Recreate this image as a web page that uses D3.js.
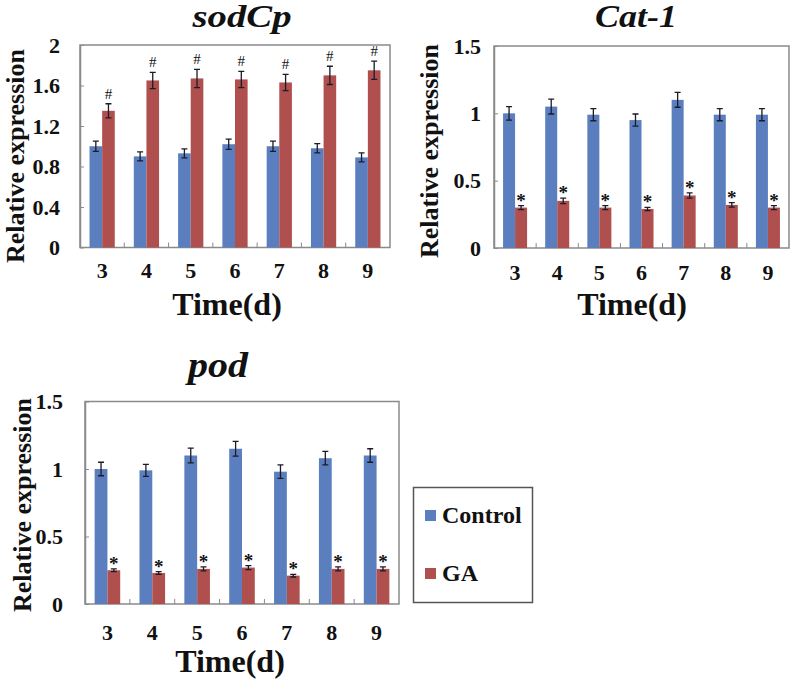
<!DOCTYPE html>
<html><head><meta charset="utf-8">
<script src="https://cdn.jsdelivr.net/npm/d3@7"></script>
<style>body{margin:0;background:#fff}svg{display:block}</style>
</head><body><svg id="c" width="793" height="684" font-family="'Liberation Serif', 'Times New Roman', Times, serif" font-weight="bold"></svg>
<script>
const categories = ["3","4","5","6","7","8","9"];
const seriesNames = ["Control","GA"];
const sodCpControl = [1.00,0.90,0.93,1.02,1.00,0.98,0.89];
const sodCpControlErr = [0.05,0.045,0.045,0.05,0.05,0.045,0.045];
const sodCpGA = [1.35,1.65,1.67,1.66,1.63,1.70,1.75];
const sodCpGAErr = [0.07,0.08,0.09,0.08,0.08,0.09,0.09];
const cat1Control = [1.00,1.05,0.99,0.95,1.10,0.99,0.99];
const cat1ControlErr = [0.05,0.055,0.045,0.045,0.055,0.045,0.045];
const cat1GA = [0.30,0.35,0.30,0.29,0.39,0.32,0.30];
const cat1GAErr = [0.015,0.02,0.015,0.012,0.02,0.017,0.015];
const podControl = [1.00,0.99,1.10,1.15,0.98,1.08,1.10];
const podControlErr = [0.05,0.045,0.055,0.055,0.05,0.05,0.05];
const podGA = [0.25,0.23,0.26,0.27,0.21,0.26,0.26];
const podGAErr = [0.01,0.01,0.015,0.015,0.01,0.015,0.015];
const sodCpTicks = [0,0.4,0.8,1.2,1.6,2];
const lowTicks = [0,0.5,1,1.5];

const FONT = "'Liberation Serif', 'Times New Roman', Times, serif";
const colors = {Control:"#5b7fbe", GA:"#b0504e"};
const svg = d3.select("#c");
svg.append("rect").attr("width",793).attr("height",684).attr("fill","#fff");

const panels = [
  {title:"sodCp", titleX:242, titleY:27, titleSize:31, titleLen:99,
   left:80, right:390, top:45, bottom:247.5, ymax:2, ticks:sodCpTicks, tickPad:20,
   ylabX:23.5, ylabY:156, xlabY:278, timeX:227, timeY:315,
   ctrl:sodCpControl, ctrlErr:sodCpControlErr, ga:sodCpGA, gaErr:sodCpGAErr, mark:"#"},
  {title:"Cat-1", titleX:636, titleY:27, titleSize:31, titleLen:82,
   left:494, right:789, top:46, bottom:248, ymax:1.5, ticks:lowTicks, tickPad:13,
   ylabX:438, ylabY:151, xlabY:280, timeX:632, timeY:315,
   ctrl:cat1Control, ctrlErr:cat1ControlErr, ga:cat1GA, gaErr:cat1GAErr, mark:"*"},
  {title:"pod", titleX:218, titleY:377, titleSize:36, titleLen:60,
   left:85, right:399, top:401.5, bottom:604, ymax:1.5, ticks:lowTicks, tickPad:22,
   ylabX:31, ylabY:505, xlabY:640, timeX:230, timeY:672,
   ctrl:podControl, ctrlErr:podControlErr, ga:podGA, gaErr:podGAErr, mark:"*"}
];

const pInner = 0.43;
panels.forEach(p => {
  const g = svg.append("g");
  const x = d3.scaleBand().domain(categories).range([p.left,p.right]).paddingInner(pInner).paddingOuter(pInner/2);
  const x1 = d3.scaleBand().domain(seriesNames).range([0,x.bandwidth()]);
  const y = d3.scaleLinear().domain([0,p.ymax]).range([p.bottom,p.top]);

  g.append("rect").attr("x",p.left).attr("y",p.top).attr("width",p.right-p.left).attr("height",p.bottom-p.top)
    .attr("fill","none").attr("stroke","#8a8a8a").attr("stroke-width",1.5);

  const ya = g.append("g").attr("transform",`translate(${p.left},0)`)
    .call(d3.axisLeft(y).tickValues(p.ticks).tickSizeInner(-4).tickSizeOuter(0).tickPadding(p.tickPad).tickFormat(d3.format("")));
  ya.attr("font-family",FONT).attr("font-size",22);
  ya.select(".domain").attr("stroke","#8a8a8a").attr("stroke-width",1.5);
  ya.selectAll(".tick line").attr("stroke","#8a8a8a");
  ya.selectAll(".tick text").attr("font-size",22).attr("fill","#111").attr("font-family",FONT).attr("font-weight","bold");

  const xa = g.append("g").attr("transform",`translate(0,${p.bottom})`)
    .call(d3.axisBottom(x).tickSize(0).tickPadding(0));
  xa.attr("font-family",FONT).attr("font-size",22);
  xa.select(".domain").remove();
  xa.selectAll(".tick text").attr("font-size",22).attr("fill","#111").attr("font-family",FONT).attr("font-weight","bold")
    .attr("dy",null).attr("y",p.xlabY-p.bottom);
  g.selectAll(".sep").data(categories.slice(1)).join("line")
    .attr("x1",d=>x(d)-x.step()*pInner/2).attr("x2",d=>x(d)-x.step()*pInner/2)
    .attr("y1",p.bottom).attr("y2",p.bottom-5).attr("stroke","#8a8a8a");

  const rows = categories.map((c,i)=>({c, vals:[
    {s:"Control", v:p.ctrl[i], e:p.ctrlErr[i]},
    {s:"GA", v:p.ga[i], e:p.gaErr[i]}]}));
  const grp = g.selectAll(".grp").data(rows).join("g").attr("transform",d=>`translate(${x(d.c)},0)`);
  grp.selectAll("rect").data(d=>d.vals).join("rect")
    .attr("x",d=>x1(d.s)).attr("width",x1.bandwidth())
    .attr("y",d=>y(d.v)).attr("height",d=>y(0)-y(d.v)).attr("fill",d=>colors[d.s]);
  const cap = 3;
  grp.selectAll(".err").data(d=>d.vals).join("path")
    .attr("d",d=>{const cx=x1(d.s)+x1.bandwidth()/2, t=y(d.v+d.e), b=y(d.v-d.e);
      return `M${cx},${t}V${b}M${cx-cap},${t}H${cx+cap}M${cx-cap},${b}H${cx+cap}`;})
    .attr("stroke","#1b1b2a").attr("stroke-width",1.3).attr("fill","none");
  grp.append("text").datum(d=>d.vals[1])
    .attr("x",d=>x1(d.s)+x1.bandwidth()/2)
    .attr("y",d=>p.mark==="#"? y(d.v+d.e)-5 : y(d.v+d.e)+1)
    .attr("text-anchor","middle").attr("font-family",FONT).attr("fill","#111")
    .attr("font-size",p.mark==="#"?15:19)
    .attr("font-weight",p.mark==="#"?"normal":"bold")
    .text(p.mark);

  g.append("text").attr("x",p.titleX).attr("y",p.titleY).attr("text-anchor","middle")
    .attr("font-family",FONT).attr("font-weight","bold").attr("fill","#111")
    .attr("font-size",p.titleSize).attr("font-style","italic")
    .attr("textLength",p.titleLen).attr("lengthAdjust","spacingAndGlyphs").text(p.title);
  g.append("text").attr("transform",`translate(${p.ylabX},${p.ylabY}) rotate(-90)`).attr("text-anchor","middle")
    .attr("font-family",FONT).attr("font-weight","bold").attr("fill","#111")
    .attr("font-size",26).text("Relative expression");
  g.append("text").attr("x",p.timeX).attr("y",p.timeY).attr("text-anchor","middle")
    .attr("font-family",FONT).attr("font-weight","bold").attr("fill","#111")
    .attr("font-size",32).text("Time(d)");
});

const lg = svg.append("g");
lg.append("rect").attr("x",413.5).attr("y",487.5).attr("width",119).attr("height",115)
  .attr("fill","#fff").attr("stroke","#555").attr("stroke-width",1.5);
const legY = [523, 581];
seriesNames.forEach((s,i)=>{
  lg.append("rect").attr("x",425).attr("y",legY[i]-13).attr("width",11).attr("height",11).attr("fill",colors[s]);
  lg.append("text").attr("x",442).attr("y",legY[i]).attr("font-size",24)
    .attr("font-family",FONT).attr("font-weight","bold").attr("fill","#111").text(s);
});
</script></body></html>
